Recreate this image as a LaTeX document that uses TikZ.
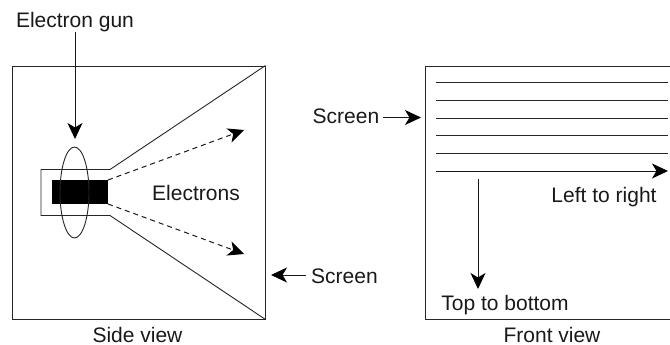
\documentclass[tikz,border=0pt]{standalone}
\usepackage{fontspec}
\setmainfont{Liberation Sans}
\usetikzlibrary{arrows.meta,shapes.geometric}
\tikzset{
  x=1pt,y=-1pt,
  lbl/.style={inner sep=0pt,anchor=base,font=\fontsize{21}{24}\selectfont,text=black!90},
  ln/.style={line width=0.9pt,black!85},
  arr/.style={line width=1pt,black!90,-{Stealth[length=16pt,width=15pt,inset=4.5pt,black]}},
  pt/.style={inner sep=0pt,minimum size=0pt}
}
\begin{document}
\begin{tikzpicture}
\useasboundingbox (0,0) rectangle (670,345);
\clip (0,0) rectangle (670,345);
% side view
\node[draw,ln,pt,minimum width=253pt,minimum height=253pt] (side) at (138.5,192.5) {};
\coordinate (tubeT) at (110,169.5);
\coordinate (tubeB) at (110,215.5);
\coordinate (tubeTL) at (41,169.5);
\coordinate (tubeBL) at (41,215.5);
\draw[ln] (side.north east) -- (tubeT) -- (tubeTL) -- (tubeBL) -- (tubeB) -- (side.south east);
\node[fill=black,pt,minimum width=56pt,minimum height=24pt] (gun) at (80,192) {};
\node[draw,ln,ellipse,pt,minimum width=29pt,minimum height=91pt] (coil) at (74.5,192.5) {};
\coordinate (rayT) at (108,180);
\coordinate (rayB) at (108,204);
\coordinate (tipT) at (244,130);
\coordinate (tipB) at (244,254);
\draw[arr,dash pattern=on 5pt off 4pt] (rayT) -- (tipT);
\draw[arr,dash pattern=on 5pt off 4pt] (rayB) -- (tipB);
\node[lbl] (elec) at (196,200) {Electrons};
\node[lbl] (egun) at (75,28) {Electron gun};
\coordinate (egunS) at (75,32);
\coordinate (egunT) at (75,139);
\draw[arr] (egunS) -- (egunT);
\node[lbl] (scr1) at (344.5,283) {Screen};
\coordinate (scr1S) at (306,275);
\coordinate (scr1tip) at (271,275);
\draw[arr] (scr1S) -- (scr1tip);
\node[lbl] (sidel) at (137.5,342) {Side view};
% front view
\node[draw,ln,pt,minimum width=249pt,minimum height=253pt] (front) at (549.5,192.5) {};
\foreach \y/\n in {82/a,100/b,118/c,135.5/d,153.5/e}{
  \coordinate (l\n) at (436,\y);
  \coordinate (r\n) at (668,\y);
  \draw[ln] (l\n) -- (r\n);
}
\coordinate (lf) at (436,171);
\coordinate (rf) at (668,171);
\draw[arr] (lf) -- (rf);
\coordinate (tb1) at (478,179);
\coordinate (tb2) at (478,289);
\draw[arr] (tb1) -- (tb2);
\node[lbl] (ltr) at (604,202) {Left to right};
\node[lbl] (ttb) at (505,310) {Top to bottom};
\node[lbl] (scr2) at (346,124) {Screen};
\coordinate (scr2S) at (383,117.5);
\coordinate (scr2tip) at (421,117.5);
\draw[arr] (scr2S) -- (scr2tip);
\node[lbl] (frontl) at (552,342) {Front view};
\end{tikzpicture}
\end{document}
